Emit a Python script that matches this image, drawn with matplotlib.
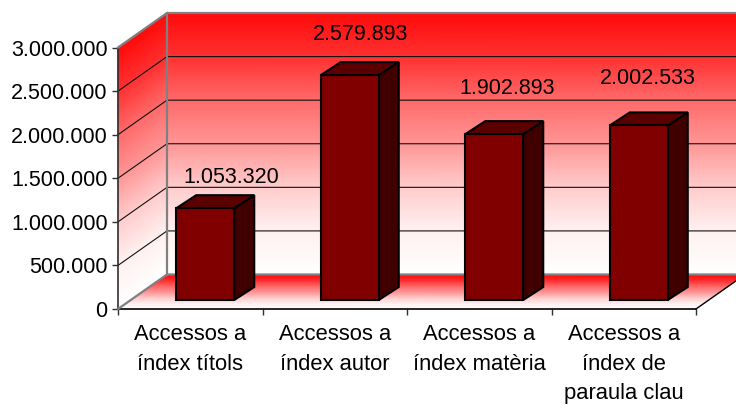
import matplotlib
matplotlib.use("Agg")
import matplotlib.pyplot as plt
from matplotlib.colors import LinearSegmentedColormap
import numpy as np

plt.rcParams['font.family'] = ['Liberation Sans', 'DejaVu Sans']

categories = ["Accessos a\níndex títols", "Accessos a\níndex autor",
              "Accessos a\níndex matèria", "Accessos a\níndex de\nparaula clau"]
values = [1053320, 2579893, 1902893, 2002533]
value_labels = ["1.053.320", "2.579.893", "1.902.893", "2.002.533"]
y_ticks = [0, 500000, 1000000, 1500000, 2000000, 2500000, 3000000]
y_tick_labels = ["0", "500.000", "1.000.000", "1.500.000", "2.000.000", "2.500.000", "3.000.000"]

W, H = 736, 405
x0, x1 = 118, 696
y_top, y_bot = 47.5, 309

fig = plt.figure(figsize=(W / 100, H / 100), dpi=100)
ax = fig.add_axes([x0 / W, 1 - y_bot / H, (x1 - x0) / W, (y_bot - y_top) / H])

# pixels to data units
px_x = 4 / (x1 - x0)
px_y = 3000000 / (y_bot - y_top)
depth_x = 49 * px_x
depth_y = 34.5 * px_y

# the fill fades out before the bottom of the wall
red_white = LinearSegmentedColormap.from_list(
    "rw", [(0, "#ffffff"), (0.17, "#fff0f0"), (0.33, "#ffcdcd"), (0.5, "#ff9696"),
           (0.667, "#ff6a6a"), (0.83, "#ff3232"), (1, "#ff0a0a")])
gray = "#808080"


def plane(low_x, low_y, high_x, high_y):
    # quad from its low edge to its high edge, many rows so the colormap stops show
    t = np.linspace(0, 1, 60)[:, None]
    xs = np.array(low_x) * (1 - t) + np.array(high_x) * t
    ys = np.array(low_y) * (1 - t) + np.array(high_y) * t
    ax.pcolormesh(xs, ys, np.repeat(t, 2, axis=1), cmap=red_white, vmin=0, vmax=1,
                  shading="gouraud", clip_on=False, zorder=1)


# back wall
plane([depth_x, 4 + depth_x], [depth_y, depth_y],
      [depth_x, 4 + depth_x], [3000000 + depth_y, 3000000 + depth_y])
# left wall
plane([0, depth_x], [0, depth_y], [0, depth_x], [3000000, 3000000 + depth_y])
# floor
plane([0, 4], [0, 0], [depth_x, 4 + depth_x], [depth_y, depth_y])

# grid lines on the walls
for t in y_ticks[1:-1]:
    ax.plot([0, depth_x, 4 + depth_x], [t, t + depth_y, t + depth_y], color="#111111", lw=0.8,
            clip_on=False, zorder=2)

# gray wall edges
ax.plot([0, depth_x, 4 + depth_x], [3000000, 3000000 + depth_y, 3000000 + depth_y], color=gray, lw=1.6,
        clip_on=False, zorder=3)
ax.plot([depth_x, depth_x], [depth_y, 3000000 + depth_y], color=gray, lw=1.6, clip_on=False, zorder=3)
ax.plot([0, depth_x, 4 + depth_x], [0, depth_y, depth_y], color=gray, lw=1.6, clip_on=False, zorder=3)
ax.plot([4, 4 + depth_x], [0, depth_y], color="black", lw=1.0, clip_on=False, zorder=3)

# bars with their depth
bar_w = 58 * px_x
shift_x = 15 * px_x
shift_y = 9 * px_y
side_x = 20 * px_x
side_y = 13 * px_y
centers = np.arange(4) + 0.5 + shift_x
ax.bar(centers, values, width=bar_w, bottom=shift_y, color="#800000", edgecolor="black", linewidth=1.5,
       zorder=5, clip_on=False)
for c, v in zip(centers, values):
    l, r = c - bar_w / 2, c + bar_w / 2
    top = v + shift_y
    ax.fill([r, r + side_x, r + side_x, r], [shift_y, shift_y + side_y, top + side_y, top],
            facecolor="#400000", edgecolor="black", linewidth=1.5, zorder=4, clip_on=False)
    ax.fill([l, l + side_x, r + side_x, r], [top, top + side_y, top + side_y, top],
            facecolor="#5a0000", edgecolor="black", linewidth=1.5, zorder=4, clip_on=False)

# value labels, offset from the bar value in pixels
label_dx = [41, 26, 28, 24]
label_dy = [40, 50, 55, 56]
for i, (v, s) in enumerate(zip(values, value_labels)):
    ax.annotate(s, (i + 0.5, v), xytext=(label_dx[i] * 0.72, label_dy[i] * 0.72),
                textcoords="offset points", ha="center", va="center", fontsize=15.5, color="black", zorder=6)

ax.set_xlim(0, 4)
ax.set_ylim(0, 3000000)
ax.set_yticks(y_ticks)
ax.set_yticklabels(y_tick_labels, fontsize=15.5)
ax.set_xticks(range(5))
ax.set_xticklabels([])
ax.set_xticks(np.arange(4) + 0.5, categories, minor=True, fontsize=15.8, linespacing=1.52)
ax.tick_params(axis="x", which="major", length=4.5, width=1, color="#303030")
ax.tick_params(axis="x", which="minor", length=0, pad=11)
ax.tick_params(axis="y", length=4.5, width=1, pad=3, color="#303030")
ax.spines["top"].set_visible(False)
ax.spines["right"].set_visible(False)
ax.spines["left"].set_color("#303030")
ax.spines["left"].set_linewidth(1.2)
ax.spines["bottom"].set_linewidth(1.2)
ax.set_facecolor("none")

fig.savefig("out.png", dpi=100)
